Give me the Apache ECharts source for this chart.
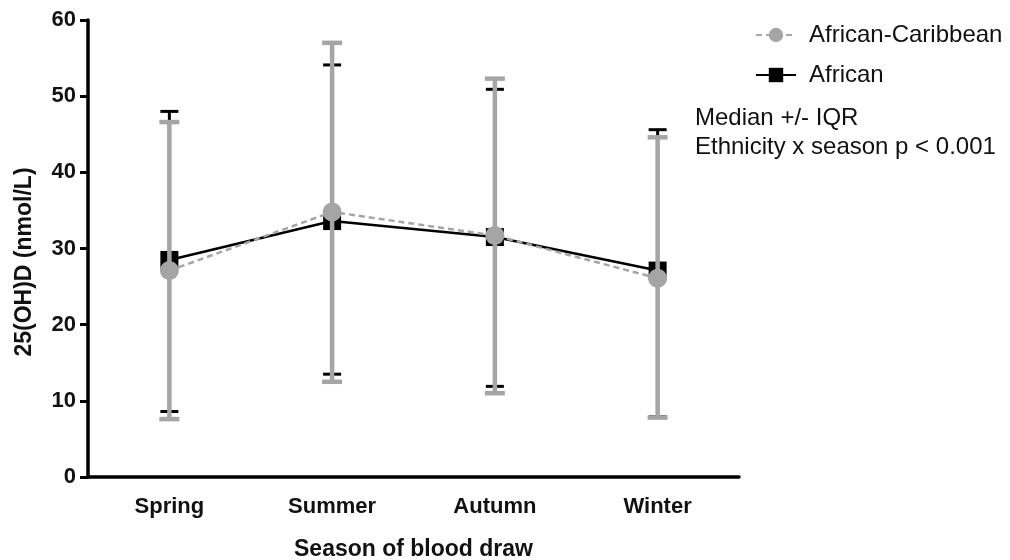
<!DOCTYPE html>
<html>
<head>
<meta charset="utf-8">
<script src="https://cdn.jsdelivr.net/npm/echarts@6/dist/echarts.min.js"></script>
<style>html,body{margin:0;padding:0;background:#fff;}#c{width:1010px;height:560px;}</style>
</head>
<body>
<div id="c"></div>
<script>
var categories = ['Spring', 'Summer', 'Autumn', 'Winter'];
var africanMedian = [28.5, 33.6, 31.5, 27.1];
var africanQ1 = [8.6, 13.5, 11.9, 7.9];
var africanQ3 = [48.0, 54.1, 50.9, 45.6];
var acMedian = [27.1, 34.8, 31.7, 26.1];
var acQ1 = [7.6, 12.5, 11.0, 7.8];
var acQ3 = [46.6, 57.0, 52.3, 44.6];
var yTicks = [0, 10, 20, 30, 40, 50, 60];

var GRAY = '#a5a5a5';
var FONT = 'Liberation Sans, Arial, sans-serif';

function errData(q1, q3) {
  return categories.map(function (c, i) { return [i, q1[i], q3[i]]; });
}
function errRender(color, showLine, lw, capW) {
  return function (params, api) {
    var lo = api.coord([api.value(0), api.value(1)]);
    var hi = api.coord([api.value(0), api.value(2)]);
    var st = { stroke: color, lineWidth: lw };
    var children = [];
    if (showLine) children.push({ type: 'line', shape: { x1: lo[0], y1: lo[1], x2: hi[0], y2: hi[1] }, style: st });
    children.push({ type: 'line', shape: { x1: lo[0] - capW / 2, y1: lo[1], x2: lo[0] + capW / 2, y2: lo[1] }, style: st });
    children.push({ type: 'line', shape: { x1: hi[0] - capW / 2, y1: hi[1], x2: hi[0] + capW / 2, y2: hi[1] }, style: st });
    return { type: 'group', children: children };
  };
}

var chart = echarts.init(document.getElementById('c'), null, { renderer: 'canvas' });
chart.setOption({
  animation: false,
  backgroundColor: '#fff',
  textStyle: { fontFamily: FONT },
  grid: { left: 88, right: 271, top: 20, bottom: 83, containLabel: false, outerBoundsMode: 'none' },
  legend: {
    orient: 'vertical', left: 750, top: 18, itemGap: 16, itemWidth: 40, itemHeight: 18,
    textStyle: { fontSize: 24, color: '#111', fontFamily: FONT, padding: [0, 0, 0, 8] },
    data: ['African-Caribbean', 'African']
  },
  xAxis: {
    type: 'category', data: categories, boundaryGap: true,
    name: 'Season of blood draw', nameLocation: 'middle', nameGap: 61,
    nameTextStyle: { fontSize: 23, fontWeight: 'bold', color: '#111', fontFamily: FONT },
    axisLine: { lineStyle: { color: '#000', width: 3.5 } },
    axisTick: { alignWithLabel: true, length: 9, lineStyle: { color: '#000', width: 3 } },
    axisLabel: { fontSize: 22, fontWeight: 'bold', color: '#111', margin: 19, fontFamily: FONT }
  },
  yAxis: {
    type: 'value', min: 0, max: 60, interval: 10,
    axisLine: { show: true, lineStyle: { color: '#000', width: 3.5 } },
    axisTick: { show: true, length: 8, lineStyle: { color: '#000', width: 3 } },
    axisLabel: { fontSize: 22, fontWeight: 'bold', color: '#111', margin: 12, fontFamily: FONT,
      formatter: function (v) { return yTicks.indexOf(v) >= 0 ? String(v) : ''; } },
    splitLine: { show: false }
  },
  graphic: [
    { type: 'text', left: 695, top: 104, style: { text: 'Median +/- IQR\nEthnicity x season p < 0.001', fontSize: 24, lineHeight: 29, fill: '#111', font: '24px ' + FONT } },
    { type: 'text', x: 25, y: 262, rotation: Math.PI / 2, style: { text: '25(OH)D (nmol/L)', fill: '#111', font: 'bold 23px ' + FONT, align: 'center', verticalAlign: 'middle' } }
  ],
  series: [
    { name: 'African-err', type: 'custom', data: errData(africanQ1, africanQ3),
      renderItem: errRender('#000', true, 3, 18), z: 2 },
    { name: 'African', type: 'line', data: africanMedian, symbol: 'rect', symbolSize: 18,
      itemStyle: { color: '#000' }, lineStyle: { color: '#000', width: 2.5 }, z: 3 },
    { name: 'AC-err', type: 'custom', data: errData(acQ1, acQ3),
      renderItem: errRender(GRAY, true, 4.5, 20), z: 4 },
    { name: 'African-Caribbean', type: 'line', data: acMedian, symbol: 'circle', symbolSize: 19,
      itemStyle: { color: GRAY }, lineStyle: { color: GRAY, width: 2.5, type: [6, 4] }, z: 5 }
  ]
});
</script>
</body>
</html>
